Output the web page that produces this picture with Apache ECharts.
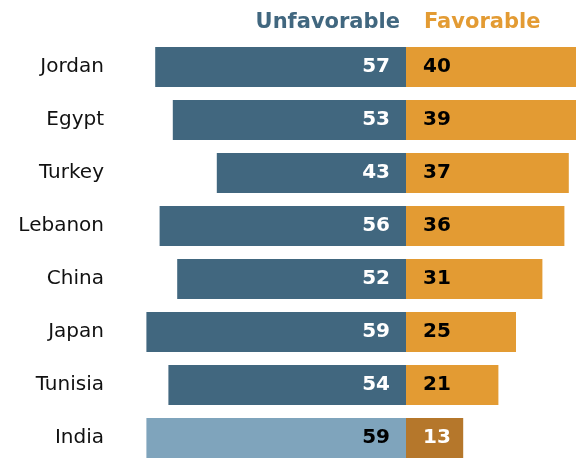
<!DOCTYPE html>
<html>
<head>
<meta charset="utf-8">
<style>html,body{margin:0;padding:0;background:#fff}#c{width:576px;height:458px}</style>
<script src="https://cdn.jsdelivr.net/npm/echarts@6/dist/echarts.min.js"></script>
</head>
<body>
<div id="c"></div>
<script>
var categories = ['Jordan','Egypt','Turkey','Lebanon','China','Japan','Tunisia','India'];
var unfavorable = [57,53,43,56,52,59,54,59];
var favorable = [40,39,37,36,31,25,21,13];
var highlight = 'India';

var BLUE = '#41677f', ORANGE = '#e39b33', LBLUE = '#7fa4bc', DORANGE = '#b5772b';
var FONT = 'DejaVu Sans';

var chart = echarts.init(document.getElementById('c'));
var unfData = unfavorable.map(function(v,i){
  var hl = categories[i] === highlight;
  return {value: -v, itemStyle:{color: hl ? LBLUE : BLUE}, label:{color: hl ? '#000' : '#fff'}};
});
var favData = favorable.map(function(v,i){
  var hl = categories[i] === highlight;
  return {value: v, itemStyle:{color: hl ? DORANGE : ORANGE}, label:{color: hl ? '#fff' : '#000'}};
});
chart.setOption({
  animation:false,
  grid:{left:142, width:440, top:40.5, height:424, containLabel:false, outerBoundsMode:'none'},
  xAxis:{type:'value', min:-60, max:40, show:false},
  yAxis:{type:'category', data:categories, inverse:true,
    axisLine:{show:false}, axisTick:{show:false}, splitLine:{show:false},
    axisLabel:{margin:38, fontFamily:FONT, fontSize:20, color:'#111'}},
  graphic:[
    {type:'text', right:176, top:12, style:{text:'Unfavorable', fontFamily:FONT, fontSize:21, fontWeight:'bold', fill:BLUE}},
    {type:'text', left:424, top:12, style:{text:'Favorable', fontFamily:FONT, fontSize:21, fontWeight:'bold', fill:ORANGE}}
  ],
  series:[
    {type:'bar', stack:'s', data:unfData, barWidth:40,
      label:{show:true, position:'insideRight', distance:16, fontFamily:FONT, fontSize:20, fontWeight:'bold',
        formatter:function(p){return Math.abs(p.value);}}},
    {type:'bar', stack:'s', data:favData, barWidth:40,
      label:{show:true, position:'insideLeft', distance:17, fontFamily:FONT, fontSize:20, fontWeight:'bold'}}
  ]
});
</script>
</body>
</html>
